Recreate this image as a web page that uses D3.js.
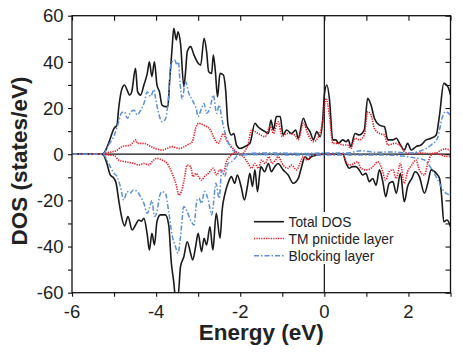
<!DOCTYPE html>
<html><head><meta charset="utf-8">
<script src="https://cdn.jsdelivr.net/npm/d3@7"></script>
<style>body{margin:0;background:#fff}svg{display:block}text{font-family:"Liberation Sans",Arial,sans-serif}</style>
</head><body><svg id="c" width="463" height="354"></svg>
<script>
const xTicks = [-6,-4,-2,0,2];
const xTickLabels = ["-6","-4","-2","0","2"];
const yTicks = [-60,-40,-20,0,20,40,60];
const yTickLabels = ["-60","-40","-20","0","20","40","60"];
const seriesNames = ["Total DOS","TM pnictide layer","Blocking layer"];

const totalUp = [[-6,0],[-5.3,0],[-5.24,0.5],[-5.13,4.7],[-5.0,11.2],[-4.93,12.6],[-4.89,19.9],[-4.81,28.5],[-4.75,30],[-4.69,27.8],[-4.63,25.6],[-4.58,27],[-4.49,37.2],[-4.44,27.1],[-4.37,25.6],[-4.29,30],[-4.21,35],[-4.16,40],[-4.1,33.6],[-4.04,40],[-3.98,30],[-3.92,27],[-3.86,21.3],[-3.78,20.6],[-3.72,20.6],[-3.68,31.4],[-3.62,45.9],[-3.58,54.5],[-3.52,49.5],[-3.48,53],[-3.42,48],[-3.34,29.2],[-3.30,35.7],[-3.26,44.4],[-3.18,46.6],[-3.10,43],[-3.0,39.4],[-2.94,38.6],[-2.86,50.2],[-2.80,44.4],[-2.75,35.7],[-2.68,35],[-2.64,43],[-2.59,35.7],[-2.54,24.9],[-2.48,35],[-2.40,34.3],[-2.35,28.5],[-2.29,12.6],[-2.21,8.3],[-2.15,9.0],[-2.09,4],[-2.01,2.5],[-1.89,3.3],[-1.77,4.7],[-1.65,13.4],[-1.58,11.9],[-1.41,9.8],[-1.33,9],[-1.27,14.8],[-1.21,10.5],[-1.14,16.3],[-1.05,16.3],[-0.98,8.3],[-0.90,10.5],[-0.78,9],[-0.68,10.5],[-0.62,6.9],[-0.50,15.6],[-0.42,11.9],[-0.34,9.8],[-0.26,6.2],[-0.18,9.8],[-0.10,7.6],[-0.03,17],[0.0,25.6],[0.06,30],[0.12,24.2],[0.2,6.2],[0.28,6.2],[0.33,4.7],[0.44,6.2],[0.52,5.4],[0.57,6.2],[0.63,3.3],[0.73,9],[0.83,8.3],[0.95,10.5],[1.03,24.2],[1.11,21.3],[1.19,15.6],[1.31,12.6],[1.43,11.9],[1.51,6.2],[1.63,6.2],[1.71,6.9],[1.81,4],[1.90,1.8],[1.98,4.7],[2.07,1.8],[2.18,3.3],[2.30,4],[2.42,6.2],[2.54,6.9],[2.66,8.3],[2.74,17],[2.84,30.7],[2.94,29.2],[3.0,25.6]];

const tmUp = [[-6,0],[-5.25,0],[-5.19,0.5],[-5.05,1],[-4.95,1.5],[-4.81,3.3],[-4.61,4],[-4.49,6.2],[-4.45,4.7],[-4.29,4.7],[-4.13,3.3],[-4.02,2.5],[-3.86,1.8],[-3.74,2.5],[-3.62,3.3],[-3.46,2.5],[-3.26,4],[-3.14,5.4],[-3.06,11.2],[-2.99,13.4],[-2.87,12.6],[-2.71,10.5],[-2.60,6.2],[-2.52,4.7],[-2.40,9],[-2.33,6.2],[-2.21,3.3],[-2.09,1],[-2.0,-0.5],[-1.9,1],[-1.82,4],[-1.73,10.5],[-1.58,9],[-1.41,7.6],[-1.29,12],[-1.21,9],[-1.10,14],[-1.0,7.6],[-0.90,9],[-0.70,8.3],[-0.62,6.2],[-0.5,13.4],[-0.38,8.3],[-0.26,5.4],[-0.14,7.6],[-0.03,15],[0.04,24.2],[0.12,17],[0.2,4.7],[0.33,4.7],[0.44,4],[0.55,4],[0.63,2.5],[0.73,6.9],[0.83,6.2],[0.95,8.3],[1.03,18.4],[1.11,17],[1.19,11.2],[1.31,9],[1.43,8.3],[1.51,4],[1.67,4.7],[1.83,3.3],[1.90,1],[2.06,0.3],[2.3,0.5],[2.5,0.3],[2.65,0.5],[2.78,1.8],[2.88,2.3],[3.0,1.5]];

const blockUp = [[-6,0],[-5.28,0],[-5.24,0.3],[-5.13,4],[-5.0,8],[-4.89,14],[-4.83,17.7],[-4.76,18.4],[-4.68,15.6],[-4.60,18.4],[-4.52,19],[-4.45,17],[-4.37,19],[-4.29,22],[-4.21,27],[-4.13,25],[-4.05,28],[-4.01,24],[-3.93,17],[-3.85,14],[-3.77,15.6],[-3.71,24],[-3.64,39.4],[-3.56,40.8],[-3.50,38.6],[-3.47,40],[-3.43,30.7],[-3.38,24],[-3.30,31.4],[-3.22,26.3],[-3.14,23.4],[-3.05,19.9],[-3.0,16.3],[-2.92,19.9],[-2.86,22],[-2.80,17.7],[-2.72,19.9],[-2.64,25.6],[-2.56,17.7],[-2.50,21.3],[-2.44,15.6],[-2.37,10],[-2.29,5.4],[-2.21,2.5],[-2.09,0.8],[-1.97,-0.3],[-1.8,0.3],[-1.5,0.5],[-1.0,0.5],[-0.5,0.3],[0,0.5],[0.5,0.5],[0.9,1.5],[1.2,0.8],[1.6,1],[2.0,0.5],[2.3,1.5],[2.54,4],[2.69,6.9],[2.8,15.6],[2.88,18.4],[3.0,17]];

const totalDown = [[-6,0],[-5.3,0],[-5.25,-0.4],[-5.17,-4],[-5.09,-9],[-5.0,-10.5],[-4.95,-12.6],[-4.89,-19.8],[-4.83,-26.3],[-4.75,-31.1],[-4.67,-27],[-4.57,-32.8],[-4.49,-30.7],[-4.41,-28.5],[-4.35,-29],[-4.29,-27.8],[-4.21,-35],[-4.16,-41.5],[-4.10,-34.3],[-4.04,-39.3],[-3.98,-29.2],[-3.90,-26.3],[-3.78,-26.3],[-3.70,-30.7],[-3.64,-46.7],[-3.58,-55.4],[-3.54,-62],[-3.48,-62],[-3.42,-48.7],[-3.34,-44.4],[-3.26,-37.9],[-3.18,-42.9],[-3.13,-45.8],[-3.06,-40],[-3.0,-34.3],[-2.92,-42.2],[-2.86,-36.4],[-2.80,-39.3],[-2.72,-31.4],[-2.65,-41.5],[-2.57,-25.6],[-2.48,-36.4],[-2.43,-24.2],[-2.36,-16.9],[-2.29,-12.6],[-2.21,-9.7],[-2.13,-12.6],[-2.07,-9],[-1.98,-14],[-1.90,-19.8],[-1.83,-14],[-1.77,-8.3],[-1.71,-14],[-1.65,-6.8],[-1.59,-16.2],[-1.51,-5.4],[-1.42,-7.6],[-1.33,-4],[-1.26,-7.6],[-1.18,-5.4],[-1.10,-4],[-0.98,-6.8],[-0.86,-9],[-0.74,-12.6],[-0.62,-10.5],[-0.54,-5.4],[-0.46,-1.1],[-0.38,-2.3],[-0.31,-1.1],[-0.19,-0.4],[0,0],[0.44,0],[0.52,-4],[0.59,-6.1],[0.67,-5.4],[0.75,-5.4],[0.83,-6.8],[0.91,-9],[0.99,-8.3],[1.07,-11.9],[1.15,-10.5],[1.23,-13.4],[1.31,-6.8],[1.39,-11.9],[1.46,-18.4],[1.54,-12.6],[1.63,-11.9],[1.71,-16.9],[1.81,-8.3],[1.90,-20.6],[1.98,-14],[2.08,-10.5],[2.16,-7.6],[2.26,-9.7],[2.38,-16.9],[2.46,-12.6],[2.54,-6.8],[2.66,-8.3],[2.74,-10.5],[2.79,-18.4],[2.84,-29.2],[2.92,-28.5],[3.0,-31.4]];

const tmDown = [[-6,0],[-5.25,0],[-5.1,-0.4],[-5.0,-0.5],[-4.89,-2.5],[-4.73,-3.3],[-4.53,-4],[-4.41,-4.7],[-4.29,-4],[-4.17,-4.7],[-4.10,-3.3],[-3.98,-1.8],[-3.86,-2.5],[-3.74,-4],[-3.62,-8.3],[-3.52,-13.4],[-3.46,-17.7],[-3.40,-16.2],[-3.34,-11.9],[-3.26,-4.7],[-3.18,-5.4],[-3.12,-9.7],[-3.05,-8.3],[-3.0,-9.5],[-2.92,-11.2],[-2.85,-9.7],[-2.76,-8.3],[-2.64,-6.1],[-2.56,-9],[-2.49,-6.8],[-2.40,-8.3],[-2.33,-3.3],[-2.25,-1.1],[-2.17,0.4],[-2.09,1],[-2.0,0],[-1.93,-1],[-1.81,-4],[-1.73,-6.1],[-1.65,-4],[-1.57,-6.1],[-1.49,-2.5],[-1.41,-4],[-1.32,-1.1],[-1.24,-4],[-1.16,-2.5],[-1.10,-1.1],[-0.98,-4.7],[-0.87,-6.1],[-0.78,-4.7],[-0.66,-6.8],[-0.58,-4],[-0.50,-1.1],[-0.42,-2.5],[-0.30,-0.4],[-0.1,0],[0.44,0],[0.52,-3.3],[0.59,-4.7],[0.71,-4],[0.79,-3.3],[0.87,-6.1],[0.99,-6.8],[1.11,-6.1],[1.19,-4.7],[1.27,-3.3],[1.35,-5.4],[1.46,-11.2],[1.54,-7.6],[1.63,-6.8],[1.71,-10.5],[1.81,-4],[1.90,-12.6],[1.98,-7.6],[2.08,-4.7],[2.18,-2.5],[2.26,-6.8],[2.38,-9],[2.46,-4],[2.54,-0.4],[2.66,0.3],[2.8,-0.5],[2.9,-1],[3.0,-1]];

const blockDown = [[-6,0],[-5.28,0],[-5.24,-0.3],[-5.13,-4],[-5.0,-8.3],[-4.93,-9.7],[-4.85,-14],[-4.77,-19.8],[-4.69,-16.2],[-4.62,-17],[-4.54,-15.5],[-4.45,-16.2],[-4.37,-18.4],[-4.29,-21.3],[-4.21,-25.6],[-4.16,-23.4],[-4.10,-20],[-4.04,-27],[-3.98,-25],[-3.92,-18.4],[-3.86,-16.2],[-3.78,-17],[-3.70,-25],[-3.62,-35],[-3.54,-40],[-3.48,-42.9],[-3.42,-35.7],[-3.34,-22.7],[-3.26,-25],[-3.18,-28.5],[-3.10,-30.7],[-3.03,-20],[-2.98,-19.1],[-2.92,-21.3],[-2.85,-16.2],[-2.76,-19.8],[-2.68,-26.3],[-2.64,-22],[-2.58,-12.6],[-2.50,-19.1],[-2.44,-6.8],[-2.37,-9.7],[-2.29,-4],[-2.21,-3.3],[-2.13,-1.8],[-2.05,-0.4],[-1.9,-0.2],[-1,-0.3],[0,-0.3],[1,-0.3],[1.7,-0.5],[1.98,-1.1],[2.22,-1.8],[2.38,-2.5],[2.54,-6.1],[2.70,-11.2],[2.82,-15.5],[2.90,-17],[3.0,-17.7]];

const svg = d3.select("#c");
const L = 72, R = 450.5, T = 15.7, B = 292.7;
const x = d3.scaleLinear().domain([-6,3]).range([L,R]);
const y = d3.scaleLinear().domain([-60,60]).range([B,T]);

svg.append("defs").append("clipPath").attr("id","clip")
  .append("rect").attr("x",L).attr("y",T).attr("width",R-L).attr("height",B-T);

// zero lines
svg.append("line").attr("x1",L).attr("x2",R).attr("y1",y(0)).attr("y2",y(0))
  .attr("stroke","#111").attr("stroke-width",1.2);
svg.append("line").attr("x1",x(0)).attr("x2",x(0)).attr("y1",T).attr("y2",B)
  .attr("stroke","#111").attr("stroke-width",1.2);

const line = d3.line().x(d=>x(d[0])).y(d=>y(d[1])).curve(d3.curveMonotoneX);
const styles = [
  {stroke:"#1a1a1a", w:1.6, dash:null},
  {stroke:"#e3202a", w:1.6, dash:"1.3,1.1"},
  {stroke:"#5b8fd8", w:1.5, dash:"5,2,1.5,2"}
];
const g = svg.append("g").attr("clip-path","url(#clip)");
[[totalUp,totalDown],[tmUp,tmDown],[blockUp,blockDown]].forEach((pair,i)=>{
  pair.forEach(data=>{
    g.append("path").attr("d",line(data)).attr("fill","none")
      .attr("stroke",styles[i].stroke).attr("stroke-width",styles[i].w)
      .attr("stroke-dasharray",styles[i].dash).attr("stroke-linejoin","round");
  });
});

// axes
const xMinor = d3.range(-6,3.01,1);
const yMinor = d3.range(-60,60.01,10);
const fs = 18.5;
// bottom (outward)
const xb = svg.append("g").attr("transform",`translate(0,${B})`)
  .call(d3.axisBottom(x).tickValues(xMinor).tickSize(4).tickFormat(""));
const xt = svg.append("g").attr("transform",`translate(0,${T})`)
  .call(d3.axisBottom(x).tickValues(xMinor).tickSize(5).tickFormat(""));
const yl = svg.append("g").attr("transform",`translate(${L},0)`)
  .call(d3.axisLeft(y).tickValues(yMinor).tickSize(4).tickFormat(""));
const yr = svg.append("g").attr("transform",`translate(${R},0)`)
  .call(d3.axisLeft(y).tickValues(yMinor).tickSize(5).tickFormat(""));
[xb,xt,yl,yr].forEach(a=>{a.select(".domain").remove(); a.selectAll("line").attr("stroke","#111").attr("stroke-width",1.1);});

// frame
svg.append("rect").attr("x",L).attr("y",T).attr("width",R-L).attr("height",B-T)
  .attr("fill","none").attr("stroke","#111").attr("stroke-width",1.3);

// tick labels
svg.append("g").selectAll("text").data(xTicks).join("text")
  .attr("x",d=>x(d)).attr("y",317.5).attr("text-anchor","middle")
  .attr("font-size",fs).attr("fill","#222").text((d,i)=>xTickLabels[i]);
svg.append("g").selectAll("text").data(yTicks).join("text")
  .attr("x",63.5).attr("y",d=>y(d)).attr("dy","0.36em").attr("text-anchor","end")
  .attr("font-size",fs).attr("fill","#222").text((d,i)=>yTickLabels[i]);

// titles
svg.append("text").attr("x",(L+R)/2).attr("y",340).attr("text-anchor","middle")
  .attr("font-size",22.5).attr("font-weight","bold").attr("fill","#222").text("Energy (eV)");
svg.append("text").attr("transform",`translate(26.5,161) rotate(-90)`).attr("text-anchor","middle")
  .attr("font-size",22.5).attr("font-weight","bold").attr("fill","#222").text("DOS (states/eV)");

// legend
const lg = svg.append("g");
lg.append("rect").attr("x",251).attr("y",212).attr("width",146).attr("height",52).attr("fill","#fff");
const ly = [221.7,238.5,255.7];
seriesNames.forEach((n,i)=>{
  lg.append("line").attr("x1",254).attr("x2",284).attr("y1",ly[i]).attr("y2",ly[i])
    .attr("stroke",styles[i].stroke).attr("stroke-width",styles[i].w).attr("stroke-dasharray",styles[i].dash);
  lg.append("text").attr("x",288.5).attr("y",ly[i]+5).attr("font-size",13.8).attr("fill","#222").text(n);
});
</script></body></html>
